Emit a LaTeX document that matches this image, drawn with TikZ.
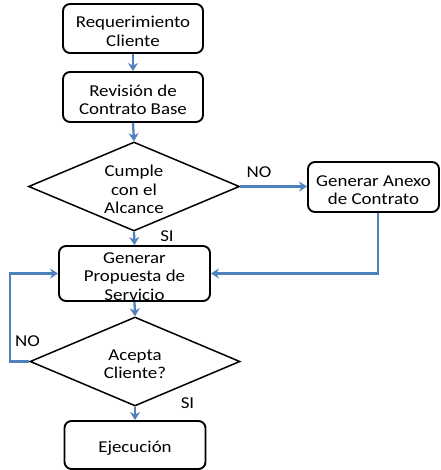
\documentclass[tikz,border=0pt]{standalone}
\usepackage{fontspec}
\setmainfont[FakeStretch=1.14]{Carlito}
\usetikzlibrary{shapes.geometric,arrows.meta}
\definecolor{flowblue}{RGB}{79,129,189}
\tikzset{
  txt/.style={inner sep=0pt, align=center, font=\fontsize{16.6}{18.4}\selectfont},
  stepbox/.style={draw=black, line width=1.9pt, rounded corners=7pt, fill=white,
    inner sep=0pt},
  decision/.style={draw=black, line width=1.5pt, diamond, fill=white,
    inner sep=0pt, minimum width=211pt, minimum height=89pt},
  caption/.style={label={[txt, yshift=-3pt]center:{#1}}},
  flow/.style={draw=flowblue, line width=2.3pt,
    -{Stealth[length=8pt,width=10pt,inset=2.5pt]}},
  tag/.style={inner sep=0pt, font=\fontsize{16.6}{18.4}\selectfont}
}
\begin{document}
\begin{tikzpicture}[x=1pt,y=-1pt]
\useasboundingbox (0,0) rectangle (440,470);

% process steps and decisions
\node[stepbox, minimum width=140pt, minimum height=49pt,
  caption={Requerimiento\\Cliente}] (req) at (133,28.5) {};
\node[stepbox, minimum width=140pt, minimum height=50pt,
  caption={Revisión de\\Contrato Base}] (rev) at (133,97) {};
\node[decision, caption={Cumple\\con el\\Alcance}] (cumple) at (134,186.5) {};
\node[stepbox, minimum width=131pt, minimum height=50pt,
  caption={Generar Anexo\\de Contrato}] (anexo) at (373.5,187) {};
\node[stepbox, minimum width=151pt, minimum height=55pt,
  caption={Generar\\Propuesta de\\Servicio}] (prop) at (134.5,273.5) {};
\node[decision, minimum width=210pt,
  caption={Acepta\\Cliente?}] (acepta) at (135,361.5) {};
\node[stepbox, minimum width=141pt, minimum height=48pt,
  caption={Ejecución}] (ejec) at (135,445) {};

% branch labels
\node[tag] (no1) at (259,172.5) {NO};
\node[tag] (si1) at (167,236) {SI};
\node[tag] (no2) at (27.5,341) {NO};
\node[tag] (si2) at (187.5,403) {SI};

% connectors
\coordinate (loop) at (10,361.5);
\draw[flow] (req.south) -- (rev.north);
\draw[flow] (rev.south) -- (cumple.north);
\draw[flow] (cumple.east) -- (cumple.east -| anexo.west);
\draw[flow] (cumple.south) -- (prop.north);
\draw[flow] ([xshift=4.5pt]anexo.south) |- (prop.east);
\draw[flow] (prop.south) -- (acepta.north);
\draw[flow] (acepta.west) -- (loop) |- (prop.west);
\draw[flow] (acepta.south) -- (ejec.north);
\end{tikzpicture}
\end{document}
